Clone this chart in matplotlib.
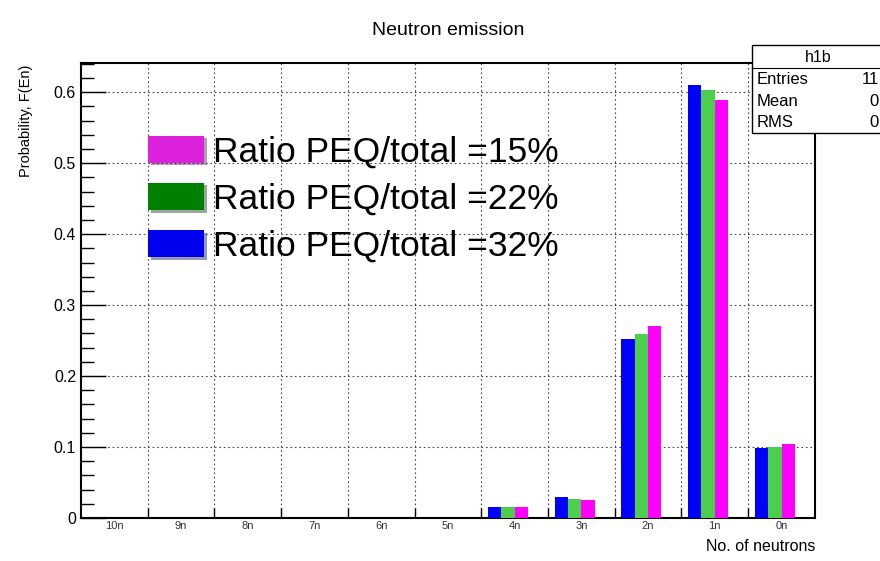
import numpy as np
import matplotlib.pyplot as plt
from matplotlib.patches import Patch, Rectangle
from matplotlib.lines import Line2D
import matplotlib.patheffects as pe
from matplotlib.ticker import MultipleLocator, FixedLocator, NullFormatter

plt.rcParams['font.family'] = ['Liberation Sans', 'DejaVu Sans']

# neutron multiplicity bins and emission probabilities
bins = ['10n', '9n', '8n', '7n', '6n', '5n', '4n', '3n', '2n', '1n', '0n']
p_32 = [0, 0, 0, 0, 0, 0, 0.016, 0.029, 0.252, 0.610, 0.098]
p_22 = [0, 0, 0, 0, 0, 0, 0.015, 0.027, 0.259, 0.603, 0.100]
p_15 = [0, 0, 0, 0, 0, 0, 0.015, 0.026, 0.270, 0.589, 0.105]
labels = ['Ratio PEQ/total =15%', 'Ratio PEQ/total =22%', 'Ratio PEQ/total =32%']

fig = plt.figure(figsize=(8.8, 5.61), dpi=100)
ax = fig.add_axes([0.092, 0.0766, 0.834, 0.811])

x = np.arange(len(bins))
ax.bar(x + 0.1, p_32, width=0.2, align='edge', color='#0000ff', zorder=3)
ax.bar(x + 0.3, p_22, width=0.2, align='edge', color='#4ccf4c', zorder=3)
ax.bar(x + 0.5, p_15, width=0.2, align='edge', color='#ff00ff', zorder=3)

ax.set_xlim(0, len(bins))
ax.set_ylim(0, 0.641)

# bin edges as ticks, labels at bin centres
ax.xaxis.set_major_locator(FixedLocator(np.arange(1, len(bins))))
ax.xaxis.set_major_formatter(NullFormatter())
ax.xaxis.set_minor_locator(FixedLocator(x + 0.5))
ax.set_xticklabels(bins, minor=True)
ax.tick_params(axis='x', which='major', direction='in', length=7, width=1, top=False)
ax.tick_params(axis='x', which='minor', length=0, labelsize=8, pad=2, colors='#333333')

ax.yaxis.set_major_locator(MultipleLocator(0.1))
ax.yaxis.set_minor_locator(MultipleLocator(0.02))
ax.yaxis.set_major_formatter(plt.FuncFormatter(lambda v, _: '0' if v == 0 else '%g' % v))
ax.tick_params(axis='y', which='major', direction='in', length=18, width=1, labelsize=11.5)
ax.tick_params(axis='y', which='minor', direction='in', length=9, width=1)

ax.grid(True, which='major', linestyle=(0, (1.5, 2.5)), color='#444444', linewidth=0.8, zorder=0)
for s in ax.spines.values():
    s.set_linewidth(1.5)

ax.set_title('Neutron emission', fontsize=14, pad=20)
ax.set_ylabel('Probability, F(En)', fontsize=10.5)
ax.yaxis.set_label_coords(-0.066, 0.873)
ax.set_xlabel('No. of neutrons', fontsize=11.5)
ax.xaxis.set_label_coords(1.0, -0.045)
ax.xaxis.label.set_horizontalalignment('right')

shadow = [pe.SimplePatchShadow(offset=(2, -2), alpha=0.4), pe.Normal()]
handles = [Patch(facecolor='#dd22dd', path_effects=shadow),
           Patch(facecolor='#008000', path_effects=shadow),
           Patch(facecolor='#0000ee', path_effects=shadow)]
ax.legend(handles, labels, loc='upper left', bbox_to_anchor=(0.067, 0.88),
          frameon=False, fontsize=25.5, handlelength=1.58, handleheight=0.8,
          handletextpad=0.25, labelspacing=0.4, borderpad=0)

# statistics box
fig.add_artist(Rectangle((752 / 880, 1 - 133 / 561), 0.2, 88 / 561, transform=fig.transFigure,
                         facecolor='white', edgecolor='black', linewidth=1, zorder=5))
fig.add_artist(Line2D([752 / 880, 1], [1 - 68 / 561] * 2, transform=fig.transFigure,
                      color='black', linewidth=0.8, zorder=6))
fig.text(818 / 880, 1 - 58 / 561, 'h1b', ha='center', va='center', fontsize=11.5, zorder=6)
for i, (k, v) in enumerate([('Entries', '11'), ('Mean', '0'), ('RMS', '0')]):
    yy = 1 - (80 + 21 * i) / 561
    fig.text(757 / 880, yy, k, ha='left', va='center', fontsize=12, zorder=6)
    fig.text(879 / 880, yy, v, ha='right', va='center', fontsize=12, zorder=6)

fig.savefig('out.png', dpi=100)
